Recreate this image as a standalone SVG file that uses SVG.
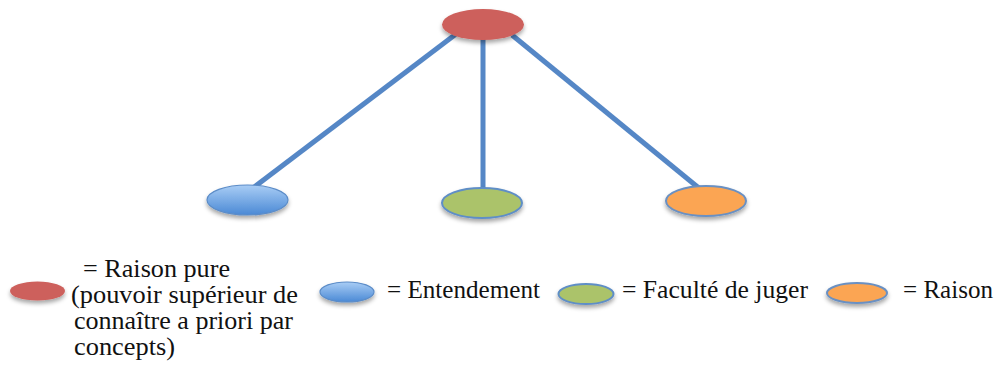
<svg xmlns="http://www.w3.org/2000/svg" width="999" height="371" viewBox="0 0 999 371">
<style>
.lbl{font-family:'Liberation Serif','Times New Roman',serif;font-size:25px;fill:#111}
.conn{stroke:#5587C6;stroke-width:5;fill:none;stroke-linecap:butt}
.red{fill:#CD605B}
.blue{fill:url(#gBlue);stroke:#5B8CC8;stroke-width:1.2}
.green{fill:#ABC36B;stroke:#5F8EC6;stroke-width:2}
.orange{fill:#FBA553;stroke:#6A90C2;stroke-width:2}
</style>
<defs>
<linearGradient id="gBlue" x1="0" y1="0" x2="0" y2="1">
<stop offset="0" stop-color="#A9CDF5"/>
<stop offset="1" stop-color="#4A89D5"/>
</linearGradient>
<filter id="sh" x="-30%" y="-30%" width="160%" height="180%">
<feDropShadow dx="0" dy="3" stdDeviation="2" flood-color="#000" flood-opacity="0.35"/>
</filter>
</defs>
<g id="connectors">
<line class="conn" x1="456" y1="34" x2="253" y2="188"/>
<line class="conn" x1="483" y1="36" x2="483" y2="192"/>
<line class="conn" x1="512" y1="35" x2="700" y2="189"/>
</g>
<g id="raison-pure"><ellipse class="red" filter="url(#sh)" cx="483" cy="24.5" rx="41" ry="15.5"/></g>
<g id="entendement"><ellipse class="blue" filter="url(#sh)" cx="247.5" cy="200" rx="40.5" ry="15"/></g>
<g id="faculte"><ellipse class="green" filter="url(#sh)" cx="482" cy="203" rx="40" ry="15"/></g>
<g id="raison"><ellipse class="orange" filter="url(#sh)" cx="706" cy="201" rx="40" ry="15"/></g>
<g id="legend-raison-pure">
<ellipse class="red" filter="url(#sh)" cx="37.5" cy="291" rx="27.5" ry="9.5"/>
<text class="lbl"><tspan x="83" y="277" textLength="147" lengthAdjust="spacingAndGlyphs">= Raison pure</tspan><tspan x="71" y="303" textLength="227" lengthAdjust="spacingAndGlyphs">(pouvoir supérieur de</tspan><tspan x="74" y="329" textLength="219" lengthAdjust="spacingAndGlyphs">connaître a priori par</tspan><tspan x="74" y="355" textLength="101" lengthAdjust="spacingAndGlyphs">concepts)</tspan></text>
</g>
<g id="legend-entendement">
<ellipse class="blue" filter="url(#sh)" cx="347" cy="292" rx="27" ry="10"/>
<text class="lbl" x="387" y="298" textLength="153" lengthAdjust="spacingAndGlyphs">= Entendement</text>
</g>
<g id="legend-faculte">
<ellipse class="green" filter="url(#sh)" cx="586" cy="294" rx="27.5" ry="10"/>
<text class="lbl" x="622" y="298" textLength="186" lengthAdjust="spacingAndGlyphs">= Faculté de juger</text>
</g>
<g id="legend-raison">
<ellipse class="orange" filter="url(#sh)" cx="857" cy="293" rx="30" ry="10"/>
<text class="lbl" x="903" y="298" textLength="90" lengthAdjust="spacingAndGlyphs">= Raison</text>
</g>
</svg>
